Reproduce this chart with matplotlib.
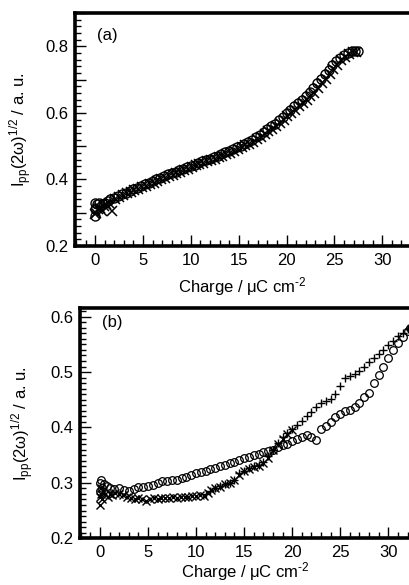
#!/usr/bin/env python3
"""Redraw the two SHG-vs-charge panels (a) and (b)."""

import matplotlib
matplotlib.use('Agg')
from matplotlib import pyplot as plt
from matplotlib.ticker import MultipleLocator, FuncFormatter

# panel (a): two overlapping runs
a_circ_x = [0.0, 0.0, 0.0, 0.2, 0.4, 0.6, 0.8, 1.0, 1.3, 1.6, 2.0, 2.4, 2.8, 3.2, 3.6,
            4.0, 4.4, 4.8, 5.2, 5.6, 6.0, 6.4, 6.8, 7.2, 7.6, 8.0, 8.4, 8.8, 9.2,
            9.6, 10.0, 10.4, 10.8, 11.2, 11.6, 12.0, 12.4, 12.8, 13.2, 13.6, 14.0,
            14.4, 14.8, 15.2, 15.6, 16.0, 16.4, 16.8, 17.2, 17.6, 18.0, 18.4, 18.8,
            19.2, 19.6, 20.0, 20.4, 20.8, 21.2, 21.6, 22.0, 22.4, 22.8, 23.2, 23.6,
            24.0, 24.4, 24.8, 25.2, 25.6, 26.0, 26.4, 26.8, 27.2, 27.5]
a_circ_y = [0.33, 0.29, 0.31, 0.325, 0.33, 0.32, 0.325, 0.33, 0.335, 0.34, 0.345, 0.35,
            0.355, 0.36, 0.365, 0.37, 0.375, 0.38, 0.385, 0.39, 0.395, 0.40, 0.405,
            0.41, 0.415, 0.418, 0.422, 0.427, 0.432, 0.436, 0.44, 0.445, 0.45, 0.455,
            0.46, 0.463, 0.467, 0.472, 0.477, 0.482, 0.487, 0.492, 0.497, 0.502,
            0.508, 0.514, 0.52, 0.527, 0.535, 0.543, 0.551, 0.56, 0.568, 0.578,
            0.589, 0.60, 0.61, 0.62, 0.63, 0.64, 0.65, 0.662, 0.675, 0.69, 0.703,
            0.716, 0.73, 0.744, 0.756, 0.766, 0.775, 0.781, 0.785, 0.786, 0.785]

a_x_x = [0.0, 0.1, 0.3, 0.5, 0.7, 0.9, 1.1, 1.4, 1.8, 2.1, 2.5, 2.9, 3.3, 3.7, 4.1,
         4.5, 4.9, 5.3, 5.7, 6.1, 6.5, 6.9, 7.3, 7.7, 8.1, 8.5, 8.9, 9.3, 9.7,
         10.1, 10.5, 10.9, 11.3, 11.7, 12.1, 12.5, 12.9, 13.3, 13.7, 14.1, 14.5,
         14.9, 15.3, 15.7, 16.1, 16.5, 16.9, 17.3, 17.7, 18.1, 18.5, 18.9, 19.3,
         19.7, 20.1, 20.5, 20.9, 21.3, 21.7, 22.1, 22.5, 22.9, 23.3, 23.7, 24.1,
         24.5, 24.9, 25.3, 25.7, 26.1, 26.5, 26.9, 27.3]
a_x_y = [0.295, 0.30, 0.31, 0.315, 0.305, 0.32, 0.325, 0.33, 0.305, 0.34, 0.348,
         0.353, 0.358, 0.362, 0.367, 0.372, 0.377, 0.381, 0.387, 0.39, 0.396, 0.40,
         0.405, 0.41, 0.414, 0.418, 0.423, 0.428, 0.432, 0.437, 0.442, 0.446, 0.45,
         0.455, 0.458, 0.462, 0.467, 0.472, 0.477, 0.481, 0.486, 0.491, 0.497,
         0.503, 0.508, 0.514, 0.521, 0.528, 0.536, 0.545, 0.553, 0.56, 0.57, 0.58,
         0.59, 0.60, 0.61, 0.62, 0.63, 0.64, 0.65, 0.66, 0.675, 0.69, 0.703, 0.717,
         0.732, 0.745, 0.758, 0.768, 0.776, 0.782, 0.783]

# panel (b): circles, x-crosses and plus marks
b_circ_x = [0.0, 0.0, 0.1, 0.2, 0.4, 0.7, 1.0, 1.5, 2.0, 2.5, 3.0, 3.5, 4.0, 4.5, 5.0,
            5.5, 6.0, 6.5, 7.0, 7.5, 8.0, 8.5, 9.0, 9.5, 10.0, 10.5, 11.0, 11.5,
            12.0, 12.5, 13.0, 13.5, 14.0, 14.5, 15.0, 15.5, 16.0, 16.5, 17.0, 17.5,
            18.0, 18.5, 19.0, 19.5, 20.0, 20.5, 21.0, 21.5, 22.0, 22.5, 23.0, 23.5,
            24.0, 24.5, 25.0, 25.5, 26.0, 26.5, 27.0, 27.5, 28.0, 28.5, 29.0, 29.5,
            30.0, 30.5, 31.0, 31.5, 32.0, 32.3]
b_circ_y = [0.30, 0.285, 0.305, 0.29, 0.298, 0.295, 0.29, 0.288, 0.29, 0.287, 0.285,
            0.288, 0.292, 0.293, 0.295, 0.296, 0.30, 0.303, 0.303, 0.305, 0.306,
            0.308, 0.311, 0.314, 0.317, 0.32, 0.322, 0.325, 0.327, 0.33, 0.332,
            0.335, 0.338, 0.341, 0.344, 0.347, 0.35, 0.352, 0.355, 0.357, 0.36,
            0.364, 0.368, 0.371, 0.375, 0.379, 0.383, 0.386, 0.382, 0.378, 0.398,
            0.403, 0.41, 0.418, 0.425, 0.43, 0.432, 0.437, 0.445, 0.455, 0.463, 0.48,
            0.495, 0.51, 0.525, 0.54, 0.552, 0.563, 0.575, 0.58]

b_x_x = [0.0, 0.05, 0.1, 0.15, 0.2, 0.3, 0.5, 0.8, 1.0, 1.3, 1.6, 2.0, 2.4, 2.8, 3.2,
         3.6, 4.0, 4.4, 4.8, 5.2, 5.6, 6.0, 6.4, 6.8, 7.2, 7.6, 8.0, 8.4, 8.8, 9.2,
         9.6, 10.0, 10.4, 10.8, 11.2, 11.6, 12.0, 12.5, 13.0, 13.5, 14.0, 14.5,
         15.0, 15.5, 16.0, 16.5, 17.0, 17.5, 18.0, 18.5, 19.0, 19.5, 20.0]
b_x_y = [0.26, 0.275, 0.29, 0.28, 0.27, 0.285, 0.28, 0.275, 0.28, 0.278, 0.282, 0.28,
         0.278, 0.275, 0.272, 0.27, 0.272, 0.27, 0.268, 0.27, 0.272, 0.27, 0.272,
         0.273, 0.272, 0.274, 0.273, 0.274, 0.275, 0.274, 0.276, 0.276, 0.278,
         0.277, 0.282, 0.287, 0.29, 0.293, 0.297, 0.30, 0.305, 0.315, 0.322, 0.325,
         0.328, 0.33, 0.335, 0.345, 0.36, 0.37, 0.38, 0.388, 0.395]

b_plus_x = [11.0, 11.5, 12.0, 12.5, 13.0, 13.5, 14.0, 14.5, 15.0, 15.5, 16.0, 16.5,
            17.0, 17.5, 18.0, 18.5, 19.0, 19.5, 20.0, 20.5, 21.0, 21.5, 22.0, 22.5,
            23.0, 23.5, 24.0, 24.5, 25.0, 25.5, 26.0, 26.5, 27.0, 27.5, 28.0, 28.5,
            29.0, 29.5, 30.0, 30.5, 31.0, 31.5, 32.0, 32.3]
b_plus_y = [0.28, 0.285, 0.29, 0.295, 0.298, 0.30, 0.305, 0.318, 0.322, 0.326, 0.33,
            0.332, 0.337, 0.348, 0.36, 0.372, 0.383, 0.39, 0.398, 0.405, 0.412, 0.42,
            0.428, 0.437, 0.445, 0.448, 0.452, 0.46, 0.475, 0.49, 0.493, 0.497,
            0.502, 0.51, 0.518, 0.525, 0.533, 0.54, 0.548, 0.557, 0.565, 0.57,
            0.578, 0.58]

XLABEL = 'Charge / μC cm$^{\\text{-2}}$'
YLABEL = 'I$_{\\rm pp}$(2ω)$^{\\rm 1/2}$ / a. u.'


def style_axes(ax, ymajor, yminor, ylabel_step):
    for side in ('left', 'bottom', 'top'):
        ax.spines[side].set_linewidth(2.6)
    ax.spines['right'].set_visible(False)
    ax.xaxis.set_major_locator(MultipleLocator(5))
    ax.xaxis.set_minor_locator(MultipleLocator(1))
    ax.yaxis.set_major_locator(MultipleLocator(ymajor))
    ax.yaxis.set_minor_locator(MultipleLocator(yminor))
    ax.yaxis.set_major_formatter(FuncFormatter(
        lambda v, p: '%.1f' % v if abs(round(v / ylabel_step) * ylabel_step - v) < 1e-6 else ''))
    ax.tick_params(which='both', direction='in', top=False, right=False,
                   labelsize=12, pad=5, width=1.0)
    ax.tick_params(which='major', length=8)
    ax.tick_params(which='minor', length=4.5)
    ax.set_xlabel(XLABEL, fontsize=12)
    ax.set_ylabel(YLABEL, fontsize=12)


def main():
    plt.rcParams['font.family'] = ['Liberation Sans', 'DejaVu Sans']
    plt.rcParams['mathtext.fontset'] = 'custom'
    plt.rcParams['mathtext.rm'] = 'Liberation Sans'
    plt.rcParams['mathtext.it'] = 'Liberation Sans:italic'

    fig = plt.figure(figsize=(4.10, 5.85), dpi=100)
    ax1 = fig.add_axes([0.183, 0.5795, 0.817, 0.398])
    ax2 = fig.add_axes([0.195, 0.080, 0.805, 0.3935])

    mk = dict(linestyle='none', color='black')
    ax1.plot(a_circ_x, a_circ_y, marker='o', mfc='none', mew=1.0, markersize=6.5, **mk)
    ax1.plot(a_x_x, a_x_y, marker='x', mew=1.1, markersize=6.5, **mk)
    ax1.set_xlim(-2.1, 32.9)
    ax1.set_ylim(0.2, 0.9)
    style_axes(ax1, 0.1, 0.02, 0.2)
    ax1.xaxis.set_label_coords(0.5, -0.125)
    ax1.yaxis.set_label_coords(-0.122, 0.5)
    ax1.text(0.066, 0.905, '(a)', transform=ax1.transAxes, fontsize=12, va='center')

    ax2.plot(b_circ_x, b_circ_y, marker='o', mfc='none', mew=0.9, markersize=5.5, **mk)
    ax2.plot(b_x_x, b_x_y, marker='x', mew=1.0, markersize=5.5, **mk)
    ax2.plot(b_plus_x, b_plus_y, marker='+', mew=1.0, markersize=5.5, **mk)
    ax2.set_xlim(-2.08, 32.26)
    ax2.set_ylim(0.2, 0.6157)
    style_axes(ax2, 0.1, 0.01, 0.1)
    ax2.xaxis.set_label_coords(0.5, -0.095)
    ax2.yaxis.set_label_coords(-0.133, 0.5)
    ax2.text(0.067, 0.935, '(b)', transform=ax2.transAxes, fontsize=12, va='center')

    fig.savefig('out.png', dpi=100)


if __name__ == '__main__':
    main()
